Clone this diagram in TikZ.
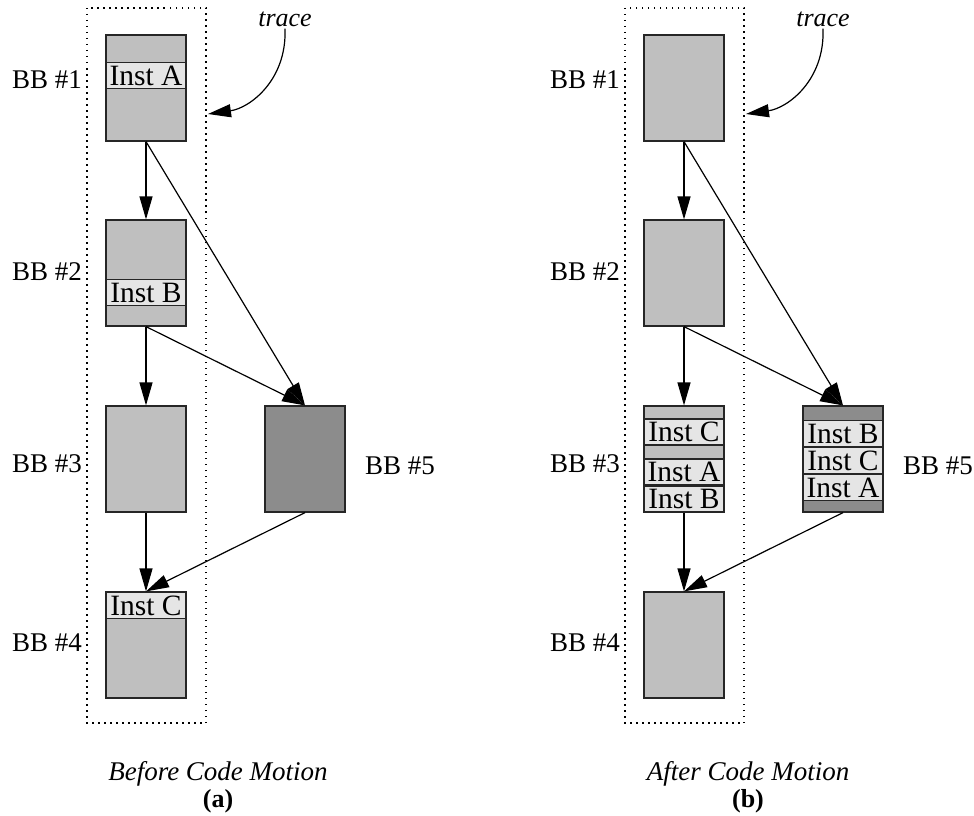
\documentclass[tikz,border=0pt]{standalone}
\usepackage{fontspec}
\setmainfont{Liberation Serif}
\usetikzlibrary{arrows.meta}

\definecolor{bbfill}{gray}{0.75}
\definecolor{hotfill}{gray}{0.55}
\definecolor{instfill}{gray}{0.9}

\tikzset{
  bb/.style={draw=black!85, line width=1.2pt, fill=bbfill, minimum width=80pt,
    minimum height=106pt, inner sep=0pt},
  hot/.style={bb, fill=hotfill},
  inst/.style={draw=black!85, line width=1.2pt, fill=instfill, minimum width=80pt,
    minimum height=26pt, inner sep=0pt, outer sep=0pt, font=\fontsize{29.5}{30}\selectfont},
  lbl/.style={font=\fontsize{27}{30}\selectfont, inner sep=0pt},
  captxt/.style={font=\fontsize{27}{30}\selectfont\itshape, anchor=base},
  subtxt/.style={font=\fontsize{26}{30}\selectfont\bfseries, anchor=base},
  tracetxt/.style={font=\fontsize{26}{30}\selectfont\itshape, inner sep=2pt},
  trace/.style={dash pattern=on 1.5pt off 4.5pt, line width=1.2pt},
  flow/.style={->, line width=1.2pt}
}

\begin{document}
\begin{tikzpicture}[x=1pt,y=-1pt,>={Triangle[length=23pt,width=13pt]}]
\useasboundingbox (0,0) rectangle (974,816);

% (a) before code motion
\draw[trace] (87,8) rectangle (206,723);
\node[bb]  (a1) at (146,88)  {};
\node[bb]  (a2) at (146,273) {};
\node[bb]  (a3) at (146,459) {};
\node[bb]  (a4) at (146,645) {};
\node[hot] (a5) at (305,459) {};
\node[inst] (aia) at (146,75.5)  {Inst A};
\node[inst] (aib) at (146,292.5) {Inst B};
\node[inst] (aic) at (146,605.5) {Inst C};
\node[lbl,anchor=east] (la1) at (82,80)    {BB \#1};
\node[lbl,anchor=east] (la2) at (82,271.5) {BB \#2};
\node[lbl,anchor=east] (la3) at (82,464)   {BB \#3};
\node[lbl,anchor=east] (la4) at (82,642.5) {BB \#4};
\node[lbl,anchor=west] (la5) at (365,466)  {BB \#5};
\draw[flow] (a1.south) -- (a2.north);
\draw[flow] (a1.south) -- (a5.north);
\draw[flow] (a2.south) -- (a3.north);
\draw[flow] (a2.south) -- (a5.north);
\draw[flow] (a3.south) -- (a4.north);
\draw[flow] (a5.south) -- (a4.north);
\node[tracetxt] (ta) at (285,19) {trace};
\coordinate (tae) at (208,114);
\draw[flow] (ta.south) .. controls (287,80) and (250,108) .. (tae);
\node[captxt] (capa) at (218,780) {Before Code Motion};
\node[subtxt] (suba) at (218,807) {(a)};

% (b) after code motion
\draw[trace] (625,8) rectangle (744,723);
\node[bb]  (b1) at (684,88)  {};
\node[bb]  (b2) at (684,273) {};
\node[bb]  (b3) at (684,459) {};
\node[bb]  (b4) at (684,645) {};
\node[hot] (b5) at (843,459) {};
\node[inst] (bic) at (684,432)   {Inst C};
\node[inst] (bia) at (684,472)   {Inst A};
\node[inst] (bib) at (684,499)   {Inst B};
\node[inst] (b5b) at (843,433.5) {Inst B};
\node[inst] (b5c) at (843,460.5) {Inst C};
\node[inst] (b5a) at (843,487.5) {Inst A};
\node[lbl,anchor=east] (lb1) at (620,80)    {BB \#1};
\node[lbl,anchor=east] (lb2) at (620,271.5) {BB \#2};
\node[lbl,anchor=east] (lb3) at (620,464)   {BB \#3};
\node[lbl,anchor=east] (lb4) at (620,642.5) {BB \#4};
\node[lbl,anchor=west] (lb5) at (903,466)   {BB \#5};
\draw[flow] (b1.south) -- (b2.north);
\draw[flow] (b1.south) -- (b5.north);
\draw[flow] (b2.south) -- (b3.north);
\draw[flow] (b2.south) -- (b5.north);
\draw[flow] (b3.south) -- (b4.north);
\draw[flow] (b5.south) -- (b4.north);
\node[tracetxt] (tb) at (823,19) {trace};
\coordinate (tbe) at (746,114);
\draw[flow] (tb.south) .. controls (825,80) and (788,108) .. (tbe);
\node[captxt] (capb) at (748,780) {After Code Motion};
\node[subtxt] (subb) at (748,807) {(b)};

\end{tikzpicture}
\end{document}
